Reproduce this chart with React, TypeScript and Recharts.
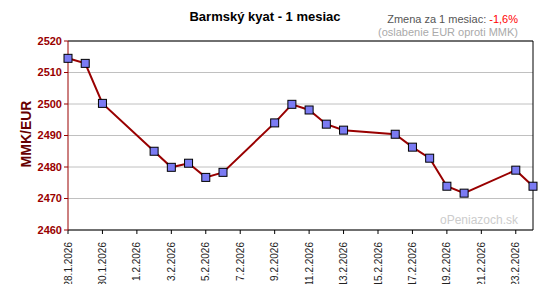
// @ts-nocheck
import { LineChart, Line, XAxis, YAxis, CartesianGrid, ReferenceLine } from 'recharts';

const pointDates = [
  '28.1.2026', '29.1.2026', '30.1.2026', '2.2.2026', '3.2.2026', '4.2.2026', '5.2.2026',
  '6.2.2026', '9.2.2026', '10.2.2026', '11.2.2026', '12.2.2026', '13.2.2026', '16.2.2026',
  '17.2.2026', '18.2.2026', '19.2.2026', '20.2.2026', '23.2.2026', '24.2.2026',
];
const rates = [
  2514.5, 2512.9, 2500.2, 2485.0, 2479.9, 2481.2, 2476.7,
  2478.3, 2494.0, 2499.9, 2498.1, 2493.6, 2491.7, 2490.4,
  2486.3, 2482.8, 2473.9, 2471.7, 2479.0, 2473.9,
];
const xTickLabels = [
  '28.1.2026', '30.1.2026', '1.2.2026', '3.2.2026', '5.2.2026', '7.2.2026', '9.2.2026',
  '11.2.2026', '13.2.2026', '15.2.2026', '17.2.2026', '19.2.2026', '21.2.2026', '23.2.2026',
];
const yTicks = [2460, 2470, 2480, 2490, 2500, 2510, 2520];

const FONT = '"Liberation Sans", Arial, sans-serif';

const toDay = (s: string) => {
  const [d, m, y] = s.split('.').map(Number);
  return Math.round((Date.UTC(y, m - 1, d) - Date.UTC(2026, 0, 28)) / 86400000);
};

const data = pointDates.map((d, i) => ({ day: toDay(d), rate: rates[i] }));
const xTicks = xTickLabels.map(toDay);
const labelByDay = Object.fromEntries(xTickLabels.map((l) => [toDay(l), l]));

function DateTick({ x, y, payload }) {
  return (
    <text
      x={x}
      y={y + 6}
      transform={`rotate(-90 ${x} ${y + 6})`}
      textAnchor="end"
      dy="0.35em"
      fontSize={10}
      fontFamily={FONT}
      fill="#222"
    >
      {labelByDay[payload.value]}
    </text>
  );
}

function SquareDot({ cx, cy }) {
  return <rect x={cx - 4} y={cy - 4} width={8} height={8} fill="#7b7bf3" stroke="#000" strokeWidth={1} />;
}

export default function App() {
  return (
    <div style={{ position: 'absolute', left: 0, top: 0, width: 559, height: 284, background: '#fff', fontFamily: FONT }}>
      <div style={{ position: 'absolute', left: 0, width: 530, top: 9, textAlign: 'center', fontWeight: 'bold', fontSize: 13, color: '#000' }}>
        Barmský kyat - 1 mesiac
      </div>
      <div style={{ position: 'absolute', right: 41, top: 13, fontSize: 11, color: '#555', textAlign: 'right', lineHeight: '13px' }}>
        Zmena za 1 mesiac: <span style={{ color: '#ff0000' }}>-1,6%</span>
        <div style={{ color: '#aaa' }}>(oslabenie EUR oproti MMK)</div>
      </div>
      <div
        style={{
          position: 'absolute', left: 26, top: 134, transform: 'translate(-50%, -50%) rotate(-90deg)',
          fontWeight: 'bold', fontSize: 14, color: '#660000', whiteSpace: 'nowrap',
        }}
      >
        MMK/EUR
      </div>
      <div style={{ position: 'absolute', right: 41, top: 213, fontSize: 12, color: '#ccc' }}>oPeniazoch.sk</div>
      <div style={{ position: 'absolute', left: 0, top: 0 }}>
        <LineChart width={559} height={284} data={data} margin={{ top: 41, right: 26, left: 0, bottom: 0 }}>
          <CartesianGrid vertical={false} stroke="#c0c0c0" />
          <XAxis
            dataKey="day"
            type="number"
            domain={[0, 27]}
            ticks={xTicks}
            interval={0}
            height={54}
            tick={<DateTick />}
            tickSize={4}
            tickLine={{ stroke: '#000' }}
            axisLine={{ stroke: '#000' }}
          />
          <YAxis
            type="number"
            domain={[2460, 2520]}
            ticks={yTicks}
            interval={0}
            width={68}
            tickSize={4}
            tickMargin={2}
            tickLine={{ stroke: '#990000' }}
            axisLine={{ stroke: '#990000' }}
            tick={{ fill: '#990000', fontSize: 11, fontWeight: 'bold', fontFamily: FONT }}
          />
          <ReferenceLine y={2520} stroke="#000" />
          <ReferenceLine x={27} stroke="#000" />
          <Line
            dataKey="rate"
            stroke="#990000"
            strokeWidth={2}
            dot={<SquareDot />}
            activeDot={false}
            isAnimationActive={false}
          />
        </LineChart>
      </div>
    </div>
  );
}
